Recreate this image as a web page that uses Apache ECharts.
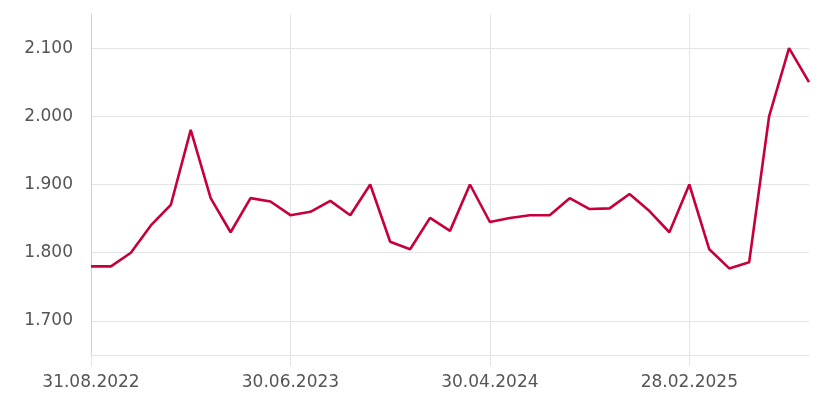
<!DOCTYPE html>
<html>
<head>
<meta charset="utf-8">
<script src="https://cdn.jsdelivr.net/npm/echarts@6/dist/echarts.min.js"></script>
<style>
html,body{margin:0;padding:0;background:#fff;}
#chart{width:820px;height:411px;}
</style>
</head>
<body>
<div id="chart"></div>
<script>
var categories = [
  '31.08.2022','30.09.2022','31.10.2022','30.11.2022','31.12.2022',
  '31.01.2023','28.02.2023','31.03.2023','30.04.2023','31.05.2023',
  '30.06.2023','31.07.2023','31.08.2023','30.09.2023','31.10.2023',
  '30.11.2023','31.12.2023','31.01.2024','29.02.2024','31.03.2024',
  '30.04.2024','31.05.2024','30.06.2024','31.07.2024','31.08.2024',
  '30.09.2024','31.10.2024','30.11.2024','31.12.2024','31.01.2025',
  '28.02.2025','31.03.2025','30.04.2025','31.05.2025','30.06.2025',
  '31.07.2025','31.08.2025'
];
var values = [
  1780, 1780, 1800, 1840, 1870,
  1980, 1880, 1830, 1880, 1875,
  1855, 1860, 1876, 1855, 1900,
  1816, 1805, 1851, 1832, 1900,
  1845, 1851, 1855, 1855, 1880,
  1864, 1865, 1886, 1861, 1830,
  1900, 1805, 1777, 1786, 2000,
  2100, 2050
];
var yTicks = [1700, 1800, 1900, 2000, 2100];

function fmt(v) {
  return Math.floor(v / 1000) + '.' + String(v % 1000).padStart(3, '0');
}

var chart = echarts.init(document.getElementById('chart'), null, {renderer: 'canvas'});
var gridColor = '#e2e4e7';
chart.setOption({
  animation: false,
  grid: {left: 91, right: 11, top: 14, bottom: 56, containLabel: false},
  xAxis: {
    type: 'category',
    data: categories,
    boundaryGap: false,
    axisLine: {show: true, lineStyle: {color: gridColor, width: 1}},
    axisTick: {show: true, interval: 9, length: 11, lineStyle: {color: gridColor}},
    splitLine: {show: true, interval: 9, lineStyle: {color: gridColor, width: 1}},
    axisLabel: {interval: 9, margin: 19, color: '#555555', fontSize: 17, fontFamily: 'DejaVu Sans'}
  },
  yAxis: {
    type: 'value',
    min: 1650,
    max: 2150,
    interval: 50,
    axisLine: {show: true, lineStyle: {color: '#cdd1d5', width: 1}},
    axisTick: {show: false},
    splitLine: {show: true, lineStyle: {color: ['rgba(0,0,0,0)', gridColor], width: 1}},
    axisLabel: {
      margin: 18,
      color: '#555555',
      fontSize: 17,
      fontFamily: 'DejaVu Sans',
      formatter: function (v) { return yTicks.indexOf(v) >= 0 ? fmt(v) : ''; }
    }
  },
  series: [{
    type: 'line',
    data: values,
    showSymbol: false,
    symbol: 'none',
    lineStyle: {color: '#c8003a', width: 2.6},
    z: 5
  }]
});
</script>
</body>
</html>
